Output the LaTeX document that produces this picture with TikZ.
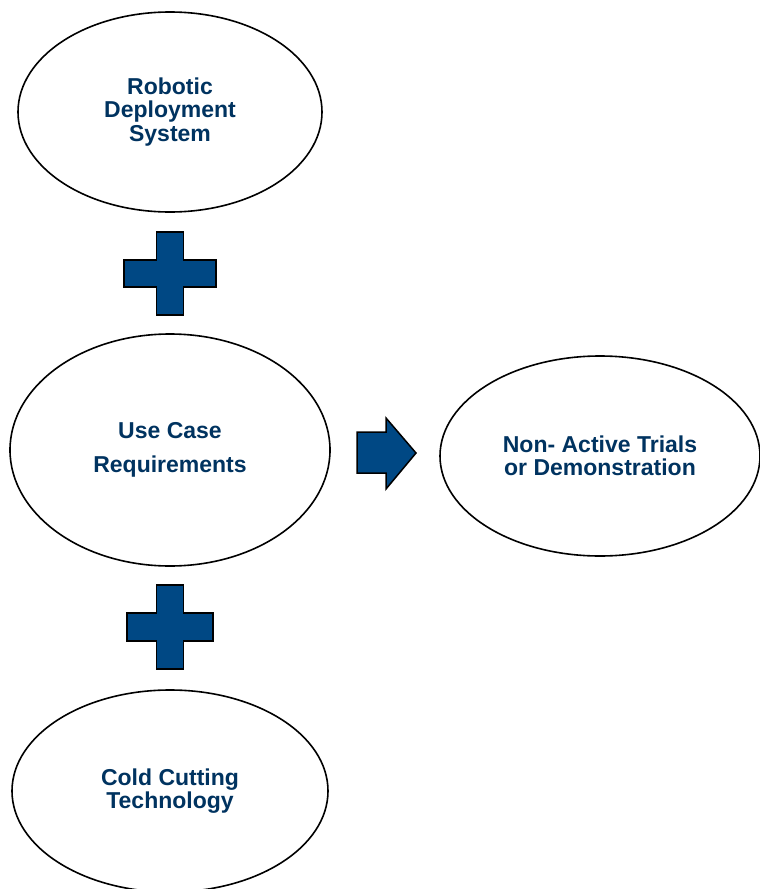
\documentclass[tikz,border=0pt]{standalone}
\usepackage{fontspec}
\setmainfont{Liberation Sans}
\usetikzlibrary{shapes.geometric}
\definecolor{navytext}{RGB}{0,51,96}
\definecolor{navyfill}{RGB}{0,72,132}
\tikzset{
  bubble/.style={ellipse, draw=black, line width=1.6pt, fill=white, inner sep=0pt,
    align=center, text=navytext, font=\bfseries\fontsize{23}{23.5}\selectfont},
  sign/.style={draw=black, line width=1.5pt, fill=navyfill, line join=miter}
}
\begin{document}
\begin{tikzpicture}[x=1pt,y=-1pt]
  \useasboundingbox (0,0) rectangle (760,889);

  % four idea bubbles
  \node[bubble, minimum width=304pt, minimum height=200pt] (robot) at (170,112)
    {Robotic\\Deployment\\System};
  \node[bubble, minimum width=320pt, minimum height=232pt] (usecase) at (170,450)
    {Use Case\\[10pt]Requirements};
  \node[bubble, minimum width=320pt, minimum height=200pt] (trials) at (600,456)
    {Non- Active Trials\\or Demonstration};
  \node[bubble, minimum width=316pt, minimum height=202pt] (cutting) at (170,791)
    {Cold Cutting\\Technology};

  % plus signs between the bubbles
  \draw[sign] (156.5,232) -- (183.5,232) -- (183.5,260) -- (216,260) -- (216,287)
    -- (183.5,287) -- (183.5,315) -- (156.5,315) -- (156.5,287) -- (124,287)
    -- (124,260) -- (156.5,260) -- cycle;
  \draw[sign] (156.5,585) -- (183.5,585) -- (183.5,613) -- (213,613) -- (213,641)
    -- (183.5,641) -- (183.5,669) -- (156.5,669) -- (156.5,641) -- (127,641)
    -- (127,613) -- (156.5,613) -- cycle;

  % block arrow towards the trials
  \draw[sign] (357,432) -- (386,432) -- (386,418) -- (416,453) -- (386,489)
    -- (386,473) -- (357,473) -- cycle;
\end{tikzpicture}
\end{document}
